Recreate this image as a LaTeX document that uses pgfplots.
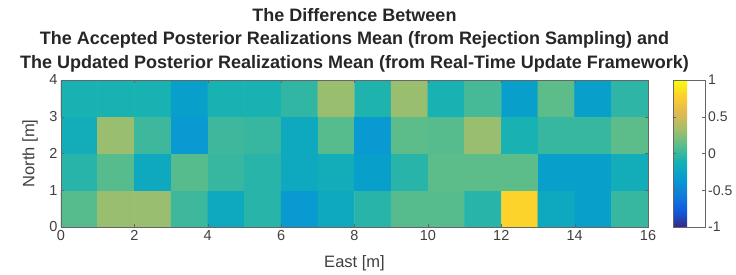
\documentclass[border=0pt]{standalone}
\usepackage{pgfplots}
\pgfplotsset{compat=1.18}
\usepackage{pgfplotstable}
\usepackage{fontspec}
\setmainfont{Liberation Sans}
\pgfplotstableread{
x y c
0.5 0.5 0.10
1.5 0.5 0.30
2.5 0.5 0.30
3.5 0.5 0.02
4.5 0.5 -0.20
5.5 0.5 -0.05
6.5 0.5 -0.35
7.5 0.5 -0.20
8.5 0.5 -0.05
9.5 0.5 0.10
10.5 0.5 0.10
11.5 0.5 -0.05
12.5 0.5 0.80
13.5 0.5 -0.20
14.5 0.5 -0.30
15.5 0.5 0.00

0.5 1.5 -0.05
1.5 1.5 0.10
2.5 1.5 -0.20
3.5 1.5 0.10
4.5 1.5 0.00
5.5 1.5 -0.05
6.5 1.5 -0.20
7.5 1.5 -0.15
8.5 1.5 -0.30
9.5 1.5 -0.05
10.5 1.5 0.12
11.5 1.5 0.12
12.5 1.5 0.12
13.5 1.5 -0.30
14.5 1.5 -0.30
15.5 1.5 -0.15

0.5 2.5 -0.15
1.5 2.5 0.30
2.5 2.5 0.02
3.5 2.5 -0.35
4.5 2.5 0.02
5.5 2.5 0.00
6.5 2.5 -0.20
7.5 2.5 0.10
8.5 2.5 -0.35
9.5 2.5 0.12
10.5 2.5 0.10
11.5 2.5 0.30
12.5 2.5 -0.10
13.5 2.5 0.00
14.5 2.5 0.00
15.5 2.5 0.12

0.5 3.5 -0.10
1.5 3.5 -0.10
2.5 3.5 -0.10
3.5 3.5 -0.30
4.5 3.5 -0.10
5.5 3.5 -0.10
6.5 3.5 -0.02
7.5 3.5 0.30
8.5 3.5 -0.08
9.5 3.5 0.30
10.5 3.5 -0.10
11.5 3.5 0.05
12.5 3.5 -0.30
13.5 3.5 0.12
14.5 3.5 -0.30
15.5 3.5 -0.03
}\cells
\pgfplotsset{
  colormap={parula}{rgb255(0)=(53,42,135) rgb255(1)=(15,92,221) rgb255(2)=(18,125,216)
    rgb255(3)=(7,156,207) rgb255(4)=(21,177,180) rgb255(5)=(89,189,140)
    rgb255(6)=(165,190,107) rgb255(7)=(225,185,82) rgb255(8)=(252,206,46)
    rgb255(9)=(249,251,14)}
}
\begin{document}
\begin{tikzpicture}
\begin{axis}[
  name=main,
  scale only axis,
  width=587pt, height=147pt,
  xmin=0, xmax=16, ymin=0, ymax=4,
  xtick={0,2,...,16}, ytick={0,1,2,3,4},
  tick align=inside,
  tick style={black!60, major tick length=3pt},
  axis line style={black!60},
  /pgf/number format/assume math mode=true,
  tick label style={font=\fontsize{14.5}{14.5}\selectfont, text=black!75},
  xlabel={East [m]}, ylabel={North [m]},
  label style={font=\fontsize{16.5}{16.5}\selectfont, text=black!75},
  xlabel style={at={(axis description cs:0.5,0)}, anchor=center, yshift=-36pt},
  ylabel style={at={(axis description cs:-0.0528,0.5)}, anchor=center},
  title={The Difference Between\\The Accepted Posterior Realizations Mean (from Rejection Sampling) and\\The Updated Posterior Realizations Mean (from Real-Time Update Framework)},
  title style={font=\bfseries\fontsize{18}{23.5}\selectfont, align=center, at={(axis description cs:0.5,1)}, anchor=south, inner sep=0pt, yshift=2pt, text=black!85},
  colormap name=parula,
  point meta min=-1, point meta max=1,
  colorbar right,
  colorbar shift/.style={xshift=25pt},
  colorbar style={
    at={(parent axis.north east)}, anchor=north west,
    width=32pt,
    ytick={-1,-0.5,0,0.5,1},
    yticklabels={-1,-0.5,0,0.5,1},
    tick align=inside,
    tick style={black!60, major tick length=3pt},
    yticklabel style={font=\fontsize{14}{14}\selectfont, text=black!75, inner xsep=3pt},
    axis line style={black!60},
  },
  axis on top,
]
\addplot[matrix plot*, mesh/cols=16, point meta=explicit] table[x=x, y=y, meta=c] {\cells};
\end{axis}
\path ([xshift=-61pt,yshift=-47pt]main.south west) rectangle ([xshift=88pt,yshift=80pt]main.north east);
\end{tikzpicture}
\end{document}
